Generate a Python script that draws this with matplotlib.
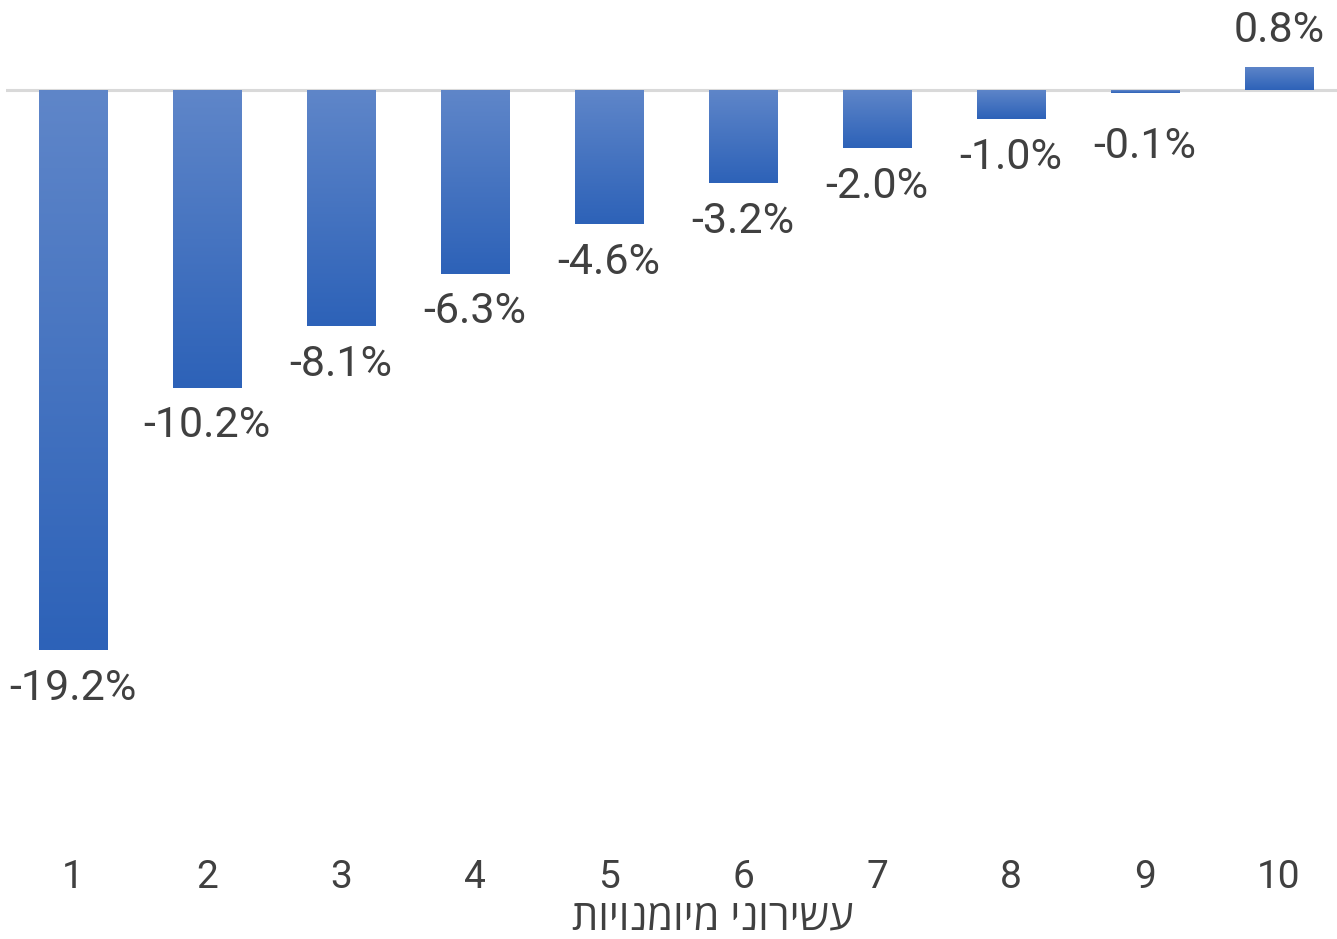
import numpy as np
import matplotlib
matplotlib.use("Agg")
import matplotlib.pyplot as plt
from matplotlib.colors import LinearSegmentedColormap

categories = ["1", "2", "3", "4", "5", "6", "7", "8", "9", "10"]
values = [-19.2, -10.2, -8.1, -6.3, -4.6, -3.2, -2.0, -1.0, -0.1, 0.8]
xlabel = "עשירוני מיומנויות"

W, H = 1337, 939
fig = plt.figure(figsize=(W / 100, H / 100), dpi=100)
ax = fig.add_axes([6 / W, 1 - 840 / H, 1340 / W, 830 / H])

fam = ["Roboto", "Open Sans", "DejaVu Sans"]
heb_fam = ["Open Sans", "DejaVu Sans"]
txt_color = "#404040"

x = np.arange(len(categories))
bars = ax.bar(x, values, width=0.51, facecolor="none", edgecolor="none", zorder=3)

cmap = LinearSegmentedColormap.from_list("g", ["#5F86C9", "#2D62B8"])
grad = np.linspace(0, 1, 256).reshape(-1, 1)
for b in bars:
    x0 = b.get_x()
    w = b.get_width()
    y0 = b.get_y()
    h = b.get_height()
    top, bot = max(y0, y0 + h), min(y0, y0 + h)
    im = ax.imshow(grad, cmap=cmap, aspect="auto", extent=[x0, x0 + w, bot, top],
                   origin="upper", zorder=3, interpolation="bilinear")
    im.set_clip_path(b)

ax.axhline(0, color="#D9D9D9", lw=2.2, zorder=2)

ax.set_xlim(-0.5, 9.5)
ax.set_ylim(-25.71, 2.74)

pad = 1.30      # label distance from bar end (data units)
min_depth = 1.95  # minimum distance of negative labels below the axis
for xi, v in zip(x, values):
    label = f"{v:.1f}%"
    if v < 0:
        ly = min(v - pad, -min_depth)
    else:
        ly = v + pad * 0.95
    ax.text(xi, ly, label, ha="center", va="center", fontsize=31,
            color=txt_color, family=fam)

for s in ax.spines.values():
    s.set_visible(False)
ax.set_yticks([])
ax.set_xticks(x)
ax.set_xticklabels(categories, fontsize=28, color=txt_color, family=fam)
ax.tick_params(axis="x", length=0, pad=14)

# matplotlib draws text left-to-right; give Hebrew in visual order
ax.set_xlabel(xlabel[::-1], fontsize=30, color=txt_color, family=heb_fam, va="center")
ax.xaxis.set_label_coords(0.5276, -0.094)

fig.savefig("out.png", dpi=100)
